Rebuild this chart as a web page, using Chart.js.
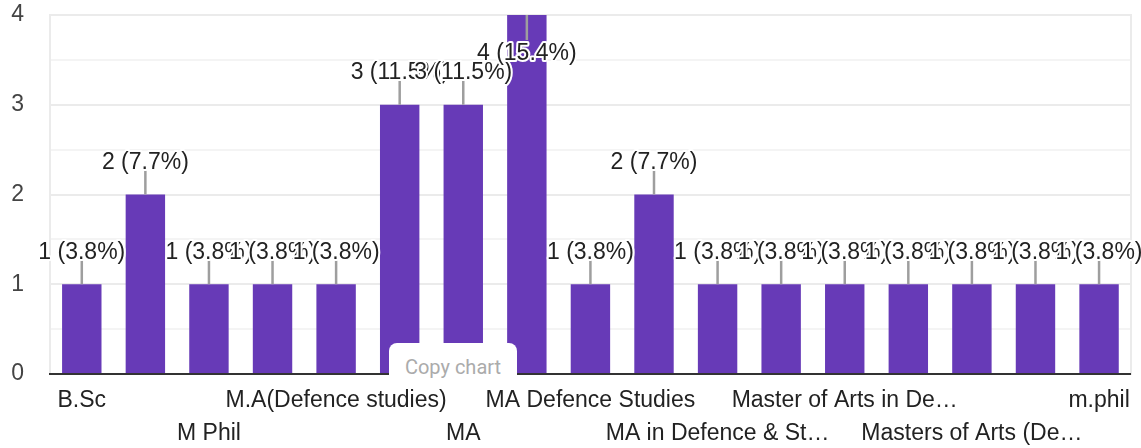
<!DOCTYPE html>
<html>
<head>
<meta charset="utf-8">
<script src="https://cdn.jsdelivr.net/npm/chart.js@4"></script>
<style>
  html, body { margin: 0; padding: 0; background: #fff; }
  #wrap { position: relative; width: 1141px; height: 448px; }
  #copy {
    position: absolute; left: 389px; top: 343px; width: 128px; height: 44px;
    background: #fff; border-radius: 8px;
    font: 20px Roboto, sans-serif; color: #ababab;
    text-align: center; line-height: 48px;
  }
</style>
</head>
<body>
<div id="wrap">
  <canvas id="myChart" width="1141" height="448"></canvas>
  <div id="copy">Copy chart</div>
</div>
<script>
// Réponses (catégories) et nombre de réponses
const categories = [
    'B.Sc', 'M A', 'M Phil', 'M.A', 'M.A(Defence studies)', 'M.A.', 'MA',
    'MA (Defence Studies)', 'MA Defence Studies', 'MA Defence and Strategic Studies',
    'MA in Defence & Strategic Studies', 'Master of Arts', 'Master of Arts in Defence Studies',
    "Master's Degree", 'Masters of Arts (Defence Studies)', 'Ph.D', 'm.phil'
];
const counts = [1, 2, 1, 1, 1, 3, 3, 4, 1, 2, 1, 1, 1, 1, 1, 1, 1];
const yTicks = [0, 1, 2, 3, 4];

const FONT = 'Arial, "Liberation Sans", sans-serif';
const total = counts.reduce((a, b) => a + b, 0);

// couper les libellés trop longs avec "…"
const measureCtx = document.createElement('canvas').getContext('2d');
measureCtx.font = '23px ' + FONT;
function shorten(label) {
    const maxW = 226.9;
    if (measureCtx.measureText(label).width <= maxW) return label;
    let s = label;
    while (s.length > 1 && measureCtx.measureText(s + '…').width > maxW) {
        s = s.slice(0, -1);
    }
    return s.trimEnd() + '…';
}

// étiquettes "n (x%)" au-dessus des barres
const valueLabels = {
    id: 'valueLabels',
    afterDatasetsDraw(chart) {
        const ctx = chart.ctx;
        const meta = chart.getDatasetMeta(0);
        ctx.save();
        ctx.font = '23px ' + FONT;
        ctx.textAlign = 'center';
        ctx.textBaseline = 'middle';
        ctx.lineJoin = 'round';
        meta.data.forEach((bar, i) => {
            const v = counts[i];
            const text = v + ' (' + (v / total * 100).toFixed(1) + '%)';
            const inside = bar.y - chart.chartArea.top < 45;
            const lineEnd = inside ? bar.y + 25 : bar.y - 24;
            const ty = inside ? bar.y + 39 : bar.y - 32;
            ctx.strokeStyle = '#9e9e9e';
            ctx.lineWidth = 2.5;
            ctx.beginPath();
            ctx.moveTo(bar.x, bar.y);
            ctx.lineTo(bar.x, lineEnd);
            ctx.stroke();
            ctx.strokeStyle = '#fff';
            ctx.lineWidth = 4;
            ctx.strokeText(text, bar.x, ty);
            ctx.fillStyle = '#222';
            ctx.fillText(text, bar.x, ty);
        });
        ctx.restore();
    }
};

// pas de marge automatique autour des axes
function noPad(s) {
    s.paddingTop = 0;
    s.paddingBottom = 0;
}

const ctx = document.getElementById('myChart').getContext('2d');
const myChart = new Chart(ctx, {
    type: 'bar',
    data: {
        labels: categories,
        datasets: [{
            data: counts,
            backgroundColor: '#673ab7',
            categoryPercentage: 1,
            barPercentage: 0.62
        }]
    },
    options: {
        responsive: false,
        animation: false,
        layout: { padding: { top: 15, right: 9, left: 0, bottom: 0 } },
        plugins: {
            legend: { display: false },
            tooltip: { enabled: false }
        },
        scales: {
            x: {
                grid: { color: 'rgba(0,0,0,0)', drawTicks: false },
                border: { color: '#333', width: 2, z: 1 },
                ticks: {
                    autoSkip: false,
                    maxRotation: 0,
                    minRotation: 0,
                    padding: 11,
                    color: '#222',
                    font: { size: 23, family: FONT, lineHeight: 1.4 },
                    callback: function(value, index) {
                        const name = shorten(this.getLabelForValue(value));
                        if (index % 4 === 0) return name;
                        if (index % 4 === 2) return ['', name];
                        return '';
                    }
                },
                afterFit: s => { s.height = 74; }
            },
            y: {
                min: yTicks[0],
                max: yTicks[yTicks.length - 1],
                ticks: {
                    stepSize: 0.5,
                    padding: 26,
                    color: '#444',
                    font: { size: 23, family: FONT },
                    callback: v => yTicks.includes(v) ? v : ''
                },
                grid: {
                    drawTicks: false,
                    lineWidth: 2,
                    color: c => (c.tick && yTicks.includes(c.tick.value)) ? '#ebebeb' : '#f4f4f4'
                },
                border: { color: '#ebebeb', width: 2 },
                afterFit: s => { s.width = 50; noPad(s); }
            },
            yR: {
                position: 'right',
                min: 0,
                max: 4,
                ticks: { display: false },
                grid: { display: false },
                border: { color: '#ebebeb', width: 2 },
                afterFit: s => { s.width = 0; noPad(s); }
            }
        }
    },
    plugins: [valueLabels]
});
</script>
</body>
</html>
